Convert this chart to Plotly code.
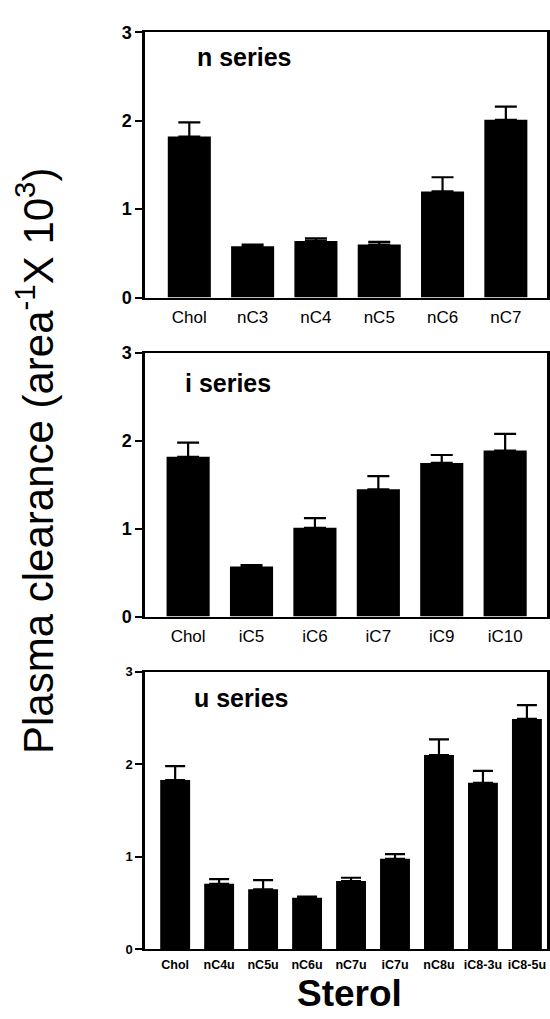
import plotly.graph_objects as go

W, H = 550, 1019

n_labels = ["Chol", "nC3", "nC4", "nC5", "nC6", "nC7"]
n_vals = [1.82, 0.58, 0.64, 0.60, 1.20, 2.01]
n_err = [0.16, 0.02, 0.03, 0.03, 0.16, 0.15]

i_labels = ["Chol", "iC5", "iC6", "iC7", "iC9", "iC10"]
i_vals = [1.82, 0.57, 1.01, 1.45, 1.75, 1.89]
i_err = [0.16, 0.015, 0.11, 0.15, 0.09, 0.19]

u_labels = ["Chol", "nC4u", "nC5u", "nC6u", "nC7u", "iC7u", "nC8u", "iC8-3u", "iC8-5u"]
u_vals = [1.83, 0.71, 0.65, 0.56, 0.74, 0.98, 2.10, 1.80, 2.49]
u_err = [0.15, 0.05, 0.10, 0.01, 0.035, 0.05, 0.17, 0.13, 0.15]

y_ticks = [0, 1, 2, 3]
panel_titles = ["n series", "i series", "u series"]
y_title = "Plasma clearance (area<sup>-1</sup>X 10<sup>3</sup>)"
x_title = "Sterol"

FONT = "Liberation Sans, Arial, Helvetica, sans-serif"

def px(x):
    return x / W

def py(y):
    return 1 - y / H

panels = [
    (n_labels, n_vals, n_err, (22.7, 293.3), [-0.7, 5.65], 11, 17, False),
    (i_labels, i_vals, i_err, (350.0, 618.7), [-0.68, 5.66], 11, 17, False),
    (u_labels, u_vals, u_err, (675.0, 958.3), [-0.686, 8.457], 10, 12.5, True),
]

fig = go.Figure()
layout = dict(
    width=W, height=H, margin=dict(l=0, r=0, t=0, b=0),
    paper_bgcolor="white", plot_bgcolor="white", showlegend=False,
    font=dict(family=FONT, color="black"), bargap=0.32,
)

for k, (labs, vals, errs, (ytop, ybot), xr, capw, fs, bold) in enumerate(panels):
    sfx = "" if k == 0 else str(k + 1)
    fig.add_trace(go.Bar(
        x=labs, y=vals, marker=dict(color="black", line=dict(width=0)),
        width=0.68,
        error_y=dict(type="data", array=errs, arrayminus=[0] * len(errs), symmetric=False,
                     color="black", thickness=2.2, width=capw),
        xaxis="x" + sfx, yaxis="y" + sfx,
    ))
    tick_font = dict(size=fs, family=FONT, color="black")
    if bold:
        tick_font["weight"] = "bold"
    layout["xaxis" + sfx] = dict(
        domain=[px(145), px(547)], anchor="y" + sfx, type="category",
        range=xr, showline=True, linewidth=2, linecolor="black", mirror=True,
        ticks="", showgrid=False, tickfont=tick_font, fixedrange=True,
        ticklabelstandoff=3,
    )
    layout["yaxis" + sfx] = dict(
        domain=[py(ybot), py(ytop)], anchor="x" + sfx, range=[0, 3],
        tickvals=y_ticks, ticktext=[str(t) for t in y_ticks],
        showline=True, linewidth=2.5, linecolor="black", mirror=True,
        ticks="outside", ticklen=7, tickwidth=2, tickcolor="black",
        showgrid=False, zeroline=False,
        tickfont=dict(size=18 if not bold else 13, family=FONT, color="black", weight="bold"),
        fixedrange=True,
    )

fig.update_layout(**layout)

title_pos = [(195, 48), (183, 380), (192, 702)]
for t, (x, y) in zip(panel_titles, title_pos):
    fig.add_annotation(text="<b>%s</b>" % t, x=px(x), y=py(y), xref="paper", yref="paper",
                       xanchor="left", yanchor="middle", showarrow=False,
                       font=dict(size=25, family=FONT, color="black"))

fig.add_annotation(text="<b>%s</b>" % x_title, x=px(349), y=py(1003), xref="paper", yref="paper",
                   xanchor="center", yanchor="middle", showarrow=False, borderpad=0,
                   font=dict(size=37, family=FONT, color="black"))

fig.add_annotation(text=y_title, x=px(35), y=py(460), xref="paper", yref="paper",
                   xanchor="center", yanchor="middle", showarrow=False, textangle=-90,
                   font=dict(size=42, family=FONT, color="black"))

fig.write_html("out.html")
